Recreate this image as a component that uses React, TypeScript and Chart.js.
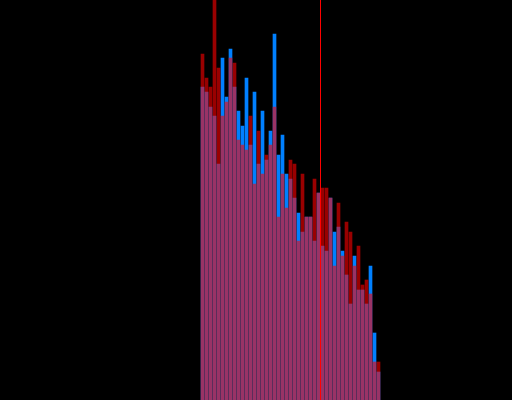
import React, { useEffect, useRef } from "react";
import { Chart, registerables } from "chart.js";

Chart.register(...registerables);

const bins: number[] = Array.from({ length: 45 }, (_, i) => i);

const blueSeries: number[] = [
  78.25, 77, 73.25, 71, 59, 85.5, 75.75, 87.75, 78.25, 72.25,
  68.5, 80.5, 63.75, 77, 59, 72.25, 60, 67.25, 91.5, 61.25,
  66.25, 56.5, 55.25, 50.5, 46.75, 42, 45.75, 45.75, 39.75, 51.75,
  38.5, 37.25, 50.5, 42, 43.25, 37.25, 31.25, 24, 36, 27.5,
  27.5, 24, 33.5, 16.75, 7,
];

const redSeries: number[] = [
  86.5, 80.5, 78.25, 104, 83, 71, 74.5, 85.5, 84.25, 65,
  63.75, 62.5, 71, 54, 67.25, 56.5, 61.25, 63.75, 73.25, 45.75,
  56.5, 48, 60, 59, 39.75, 56.5, 45.75, 45.75, 55.25, 51.75,
  53, 53, 50.5, 33.5, 49.25, 36, 44.5, 42, 33.5, 38.5,
  28.75, 30, 26.5, 9.5, 9.5,
];

const markerValue = 29.5;
const xMin = -50.625;
const xMax = 77.375;
const yMin = 0;
const yMax = 100;

export default function App() {
  const canvasRef = useRef<HTMLCanvasElement | null>(null);

  useEffect(() => {
    document.body.style.margin = "0";
    document.body.style.background = "#000";
    const canvas = canvasRef.current;
    if (!canvas) return;
    const chart = new Chart(canvas, {
      type: "bar",
      data: {
        datasets: [
          {
            type: "line",
            data: [
              { x: markerValue, y: yMin },
              { x: markerValue, y: yMax },
            ],
            borderColor: "#ff0000",
            borderWidth: 1,
            pointRadius: 0,
            order: 0,
          } as any,
          {
            type: "bar",
            data: bins.map((b, i) => ({ x: b, y: redSeries[i] })),
            backgroundColor: "rgba(255,0,0,0.6)",
            borderWidth: 0,
            barThickness: 3,
            grouped: false,
            order: 1,
          } as any,
          {
            type: "bar",
            data: bins.map((b, i) => ({ x: b, y: blueSeries[i] })),
            backgroundColor: "rgb(0,128,255)",
            borderWidth: 0,
            barThickness: 3,
            grouped: false,
            order: 2,
          } as any,
        ],
      },
      options: {
        animation: false,
        responsive: false,
        maintainAspectRatio: false,
        layout: { padding: 0 },
        plugins: {
          legend: { display: false },
          tooltip: { enabled: false },
          title: { display: false },
        },
        scales: {
          x: { type: "linear", display: false, min: xMin, max: xMax, offset: false },
          y: { type: "linear", display: false, min: yMin, max: yMax },
        },
      },
    });
    return () => chart.destroy();
  }, []);

  return (
    <div
      style={{
        position: "fixed",
        left: 0,
        top: 0,
        width: 512,
        height: 400,
        background: "#000",
      }}
    >
      <canvas ref={canvasRef} width={512} height={400} style={{ display: "block" }} />
    </div>
  );
}
